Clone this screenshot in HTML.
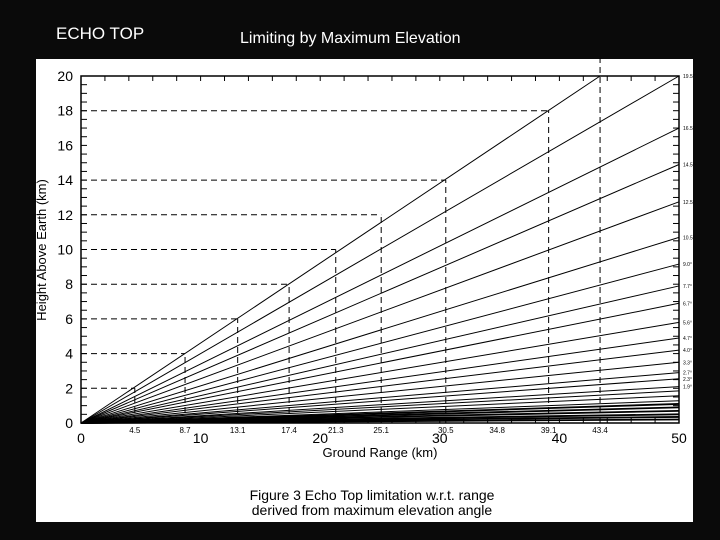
<!DOCTYPE html>
<html><head><meta charset="utf-8"><style>
body{margin:0;background:#0a0a0a;width:720px;height:540px;overflow:hidden;font-family:"Liberation Sans",sans-serif}
.t{position:absolute;color:#fff;}
</style></head><body>
<div class="t" style="left:56px;top:24px;font-size:17px">ECHO TOP</div>
<div class="t" style="left:240px;top:30px;font-size:16px">Limiting by Maximum Elevation</div>
<svg id="c" width="720" height="540" style="position:absolute;left:0;top:0">
<rect x="36" y="59" width="657" height="463" fill="#fff"/>
</svg>
<script>
const xTicks=[0,10,20,30,40,50];
const xTickLabels=["0","10","20","30","40","50"];
const yTicks=[0,2,4,6,8,10,12,14,16,18,20];
const yTickLabels=["0","2","4","6","8","10","12","14","16","18","20"];
const markRanges=[4.5,8.7,13.1,17.4,21.3,25.1,30.5,34.8,39.1,43.4];
const markHeights=[2,4,6,8,10,12,14,16,18,20];
const markLabels=["4.5","8.7","13.1","17.4","21.3","25.1","30.5","34.8","39.1","43.4"];
const lineEndHeights=[20,17,14.9,12.75,10.7,9.16,7.9,6.9,5.8,4.9,4.2,3.5,2.9,2.55,2.1,1.85,1.57,1.28,1.1,0.9,0.7,0.5,0.35,0.2];
const angleLabels=["19.5","16.5","14.5","12.5","10.5","9.0","7.7","6.7","5.6","4.7","4.0","3.3","2.7","2.3","1.9","1.7","1.4","1.1","0.9","0.7","0.5","0.4","0.3","0.2"];
const svg=document.getElementById('c');const NS='http://www.w3.org/2000/svg';
const X=v=>81+v*(679-81)/50, Y=v=>423-v*17.35;
function mk(t,a,p){const e=document.createElementNS(NS,t);for(const k in a)e.setAttribute(k,a[k]);(p||svg).appendChild(e);return e;}
function txt(x,y,s,size,anchor,name){const e=mk('text',{x:x,y:y,'font-size':size,'text-anchor':anchor||'middle',fill:'#000','font-family':'Liberation Sans, sans-serif'});e.textContent=s;

return e;}
const fr=mk('rect',{x:X(0),y:Y(20),width:X(50)-X(0),height:Y(0)-Y(20),fill:'none',stroke:'#000','stroke-width':1.5});


for(let v=0;v<=20;v+=0.5){const l=mk('line',{x1:X(0),x2:X(0)+6,y1:Y(v),y2:Y(v),stroke:'#000'});


const r=mk('line',{x1:X(50),x2:X(50)-6,y1:Y(v),y2:Y(v),stroke:'#000'});

}
for(let v=0;v<=50;v+=2){const l=mk('line',{x1:X(v),x2:X(v),y1:Y(20),y2:Y(20)+5,stroke:'#000'});


const b=mk('line',{x1:X(v),x2:X(v),y1:Y(0),y2:Y(0)-5,stroke:'#000'});

}
yTicks.forEach((v,i)=>txt(X(0)-8,Y(v)+5,yTickLabels[i],14,'end','y-tick-label'));
xTicks.forEach((v,i)=>txt(X(v),Y(0)+20,xTickLabels[i],14,'middle','x-tick-label'));
markRanges.forEach((r,i)=>{const h=markHeights[i];
 if(h!==16){const hl=mk('line',{x1:X(0),x2:X(r),y1:Y(h),y2:Y(h),stroke:'#000','stroke-dasharray':'6,4'});
 
 
 const vl=mk('line',{x1:X(r),x2:X(r),y1:Y(0),y2:(i===markRanges.length-1?58:Y(h)),stroke:'#000','stroke-dasharray':'6,4'});
 
 }
 txt(X(r),Y(0)+10,markLabels[i],8,'middle','range-label');});
const topLine=mk('line',{x1:X(0),y1:Y(0),x2:X(43.4),y2:Y(20),stroke:'#000','stroke-width':1});


lineEndHeights.forEach((h,i)=>{const l=mk('line',{x1:X(0),y1:Y(0),x2:X(50),y2:Y(h),stroke:'#000','stroke-width':i>17?1.8:1});


if(i<15)txt(X(50)+4,Y(h)+2,angleLabels[i]+"°",5,'start','angle-label');});
txt(380,457,"Ground Range (km)",13,'middle','x-axis-title');
const yt=txt(0,0,"Height Above Earth (km)",13,'middle','y-axis-title');yt.setAttribute('transform','translate(46,250) rotate(-90)');
txt(372,500,"Figure 3    Echo Top limitation w.r.t. range",14,'middle','caption-line1');
txt(372,515,"derived from maximum elevation angle",14,'middle','caption-line2');
</script>
</body></html>
